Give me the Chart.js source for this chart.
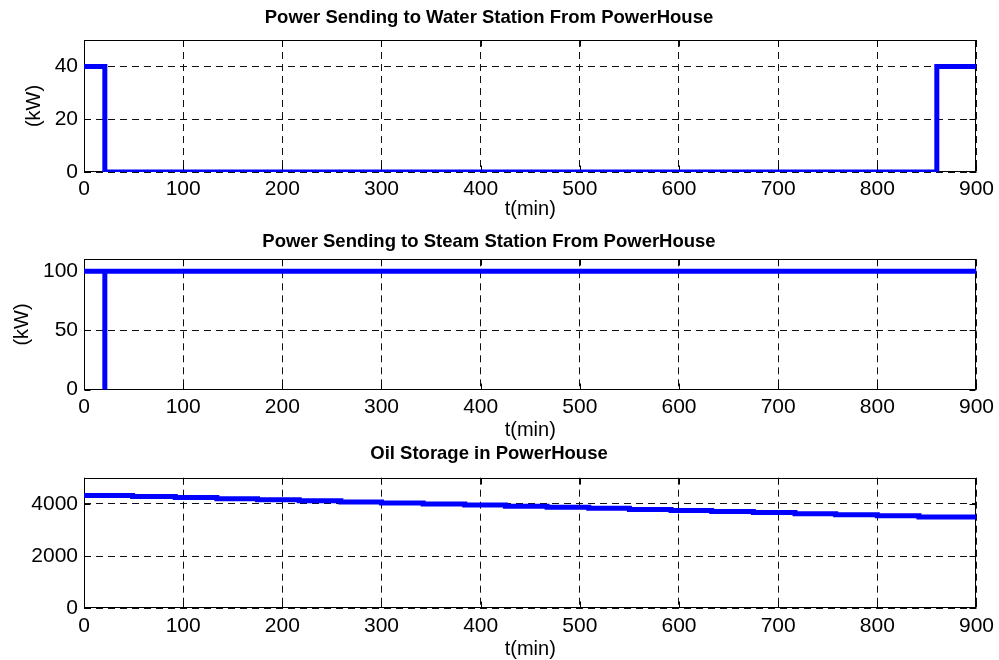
<!DOCTYPE html>
<html>
<head>
<meta charset="utf-8">
<script src="https://cdn.jsdelivr.net/npm/chart.js@4"></script>
<style>
  html, body { margin: 0; padding: 0; background: #fff; }
  canvas { display: block; }
</style>
</head>
<body>
<canvas id="c1" width="999" height="220"></canvas>
<canvas id="c2" width="999" height="220"></canvas>
<canvas id="c3" width="999" height="220"></canvas>
<script>
// ---- data ----
const xTicks = [0, 100, 200, 300, 400, 500, 600, 700, 800, 900];

const waterTime  = [0, 21, 860, 900];
const waterPower = [40, 0, 40, 40];
const waterTicks = [0, 20, 40];

const steamTime  = [0, 21, 21, 900];
const steamPower = [100, 0, 100, 100];
const steamTicks = [0, 50, 100];

const oilTime  = [0, 49, 92, 134, 175, 217, 259, 300, 342, 384, 425, 467, 509, 550, 592, 633, 675, 717, 758, 800, 842, 900];
const oilLevel = [4320, 4280, 4238, 4197, 4157, 4115, 4074, 4034, 3992, 3951, 3910, 3870, 3829, 3787, 3746, 3706, 3664, 3623, 3582, 3541, 3500, 3500];
const oilTicks = [0, 2000, 4000];

const titles = [
  'Power Sending to Water Station From PowerHouse',
  'Power Sending to Steam Station From PowerHouse',
  'Oil Storage in PowerHouse'
];

// ---- styling helpers ----
const FONT = '"Liberation Sans", Arial, Helvetica, sans-serif';

const boxPlugin = {
  id: 'matlabBox',
  beforeDatasetsDraw(chart) {
    const {ctx, chartArea: a, scales} = chart;
    const L = Math.round(a.left) + 0.5, R = Math.round(a.right) - 0.5;
    const T = Math.round(a.top) + 0.5, B = Math.round(a.bottom) - 0.5;
    ctx.save();
    ctx.setLineDash([]);
    ctx.strokeStyle = '#000';
    ctx.lineWidth = 1;
    ctx.strokeRect(L, T, R - L, B - T);
    const tl = 6;
    ctx.beginPath();
    scales.x.ticks.forEach(t => {
      const px = Math.round(scales.x.getPixelForValue(t.value)) + 0.5;
      ctx.moveTo(px, B); ctx.lineTo(px, B - tl);
      ctx.moveTo(px, T); ctx.lineTo(px, T + tl);
    });
    scales.y.ticks.forEach(t => {
      const py = Math.round(scales.y.getPixelForValue(t.value)) + 0.5;
      ctx.moveTo(L, py); ctx.lineTo(L + tl, py);
      ctx.moveTo(R, py); ctx.lineTo(R - tl, py);
    });
    ctx.stroke();
    ctx.restore();
  }
};

function makeChart(id, cfg) {
  const canvasH = 220;
  const titleLH = 18.5 * 1.2;
  return new Chart(document.getElementById(id), {
    type: 'line',
    data: {
      datasets: [{
        data: cfg.time.map((t, i) => ({x: t, y: cfg.values[i]})),
        borderColor: '#0000ff',
        borderWidth: 5,
        pointRadius: 0,
        stepped: 'before',
        fill: false,
        tension: 0,
        borderJoinStyle: 'miter'
      }]
    },
    options: {
      responsive: false,
      animation: false,
      devicePixelRatio: 1,
      layout: { padding: { left: 0, right: 21, top: 0, bottom: 0 } },
      plugins: {
        legend: { display: false },
        tooltip: { enabled: false },
        title: {
          display: true,
          text: cfg.title,
          color: '#000',
          font: { family: FONT, size: 18.5, weight: 'bold', lineHeight: 1.2 },
          padding: { top: cfg.titleTop, bottom: cfg.areaTop - cfg.titleTop - titleLH }
        }
      },
      scales: {
        x: {
          type: 'linear',
          min: 0, max: 900,
          afterBuildTicks: s => { s.ticks = xTicks.map(v => ({value: v})); },
          afterFit: s => { s.height = canvasH - cfg.areaBottom; },
          grid: { color: '#111', lineWidth: 1, drawTicks: false },
          border: { display: false, dash: [7, 5] },
          ticks: { color: '#000', padding: 5, maxRotation: 0, autoSkip: false,
                   callback: v => String(v),
                   font: { family: FONT, size: 21 } },
          title: { display: true, text: 't(min)', color: '#000',
                   font: { family: FONT, size: 20, lineHeight: 1 },
                   padding: { top: 0, bottom: cfg.xTitleBottom } }
        },
        y: {
          type: 'linear',
          min: 0, max: cfg.yMax,
          afterBuildTicks: s => { s.ticks = cfg.yTicks.map(v => ({value: v})); },
          afterFit: s => { s.width = 84; },
          grid: { color: '#111', lineWidth: 1, drawTicks: false },
          border: { display: false, dash: [7, 5] },
          ticks: { color: '#000', padding: 6, autoSkip: false,
                   callback: v => String(v),
                   font: { family: FONT, size: 21 } },
          title: { display: cfg.yTitle !== '', text: cfg.yTitle, color: '#000',
                   font: { family: FONT, size: 20, lineHeight: 1 },
                   padding: { top: cfg.yTitlePad, bottom: 0 } }
        }
      }
    },
    plugins: [boxPlugin]
  });
}

makeChart('c1', {
  time: waterTime, values: waterPower, yTicks: waterTicks, yMax: 50,
  title: titles[0], titleTop: 6.7, areaTop: 40, areaBottom: 172,
  xTitleBottom: 1, yTitle: '(kW)', yTitlePad: 24
});
makeChart('c2', {
  time: steamTime, values: steamPower, yTicks: steamTicks, yMax: 110,
  title: titles[1], titleTop: 10.4, areaTop: 39.3, areaBottom: 169.7,
  xTitleBottom: 0, yTitle: '(kW)', yTitlePad: 12.5
});
makeChart('c3', {
  time: oilTime, values: oilLevel, yTicks: oilTicks, yMax: 5000,
  title: titles[2], titleTop: 2.9, areaTop: 37.7, areaBottom: 168.3,
  xTitleBottom: 1, yTitle: '', yTitlePad: 0
});
</script>
</body>
</html>
